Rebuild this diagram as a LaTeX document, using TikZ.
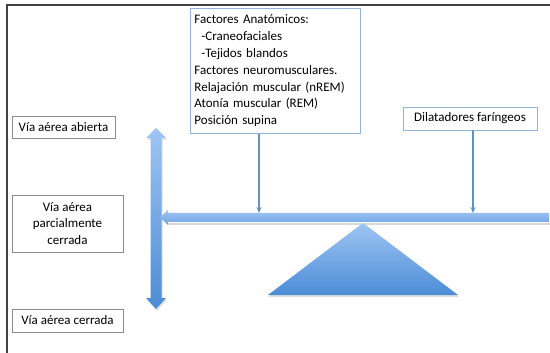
\documentclass[tikz,border=0pt]{standalone}
\usepackage{fontspec}
\setmainfont{Carlito}
\usetikzlibrary{arrows.meta,positioning,calc}
\definecolor{framegr}{RGB}{64,64,64}
\definecolor{boxgr}{RGB}{140,140,140}
\definecolor{boxbl}{RGB}{149,179,215}
\definecolor{arrbl}{RGB}{95,145,205}
\definecolor{lightbl}{RGB}{158,197,243}
\definecolor{darkbl}{RGB}{76,140,214}
\definecolor{beambl}{RGB}{120,170,232}

\begin{document}
\begin{tikzpicture}[x=1pt, y=-1pt, font=\fontsize{13}{16.8}\selectfont,
    levelbox/.style={draw=boxgr, line width=0.8pt, inner sep=2pt, align=center},
    factorbox/.style={draw=boxbl, line width=0.9pt, inner sep=4pt},
    force/.style={arrbl, line width=1.2pt, -{Stealth[length=6pt,width=5pt]}}]
    \useasboundingbox (0,0) rectangle (550,353);

    % Frame
    \draw[framegr, line width=1.5pt] (7,353) -- (7,5) -- (550,5);

    % Airway levels
    \node[levelbox, minimum width=103pt, minimum height=22pt] (abierta) at (63.5,127) {Vía aérea abierta};
    \node[levelbox, minimum width=111pt, minimum height=57pt] (parcial) at (67.5,223.5)
      {Vía aérea\\parcialmente\\cerrada};
    \node[levelbox, minimum width=111pt, minimum height=23pt] (cerrada) at (67.5,320.5) {Vía aérea cerrada};

    % Double arrow
    \fill[black!12] (157,130) -- (167,140) -- (162.5,140) -- (162.5,300) -- (167,300) -- (157,311)
      -- (147,300) -- (151.5,300) -- (151.5,140) -- (147,140) -- cycle;
    \shade[top color=lightbl, bottom color=darkbl]
      (156,128) -- (166,138) -- (161.5,138) -- (161.5,298) -- (166,298) -- (156,309)
      -- (146,298) -- (150.5,298) -- (150.5,138) -- (146,138) -- cycle;

    % Beam
    \fill[black!15] (168,223) rectangle (550,225);
    \shade[top color=lightbl, bottom color=beambl!80!darkbl]
      (160,217.5) -- (168,210) -- (168,213) -- (549,213) -- (549,222) -- (168,222)
      -- (168,225) -- cycle;
    \coordinate (beamL) at (259,213);
    \coordinate (beamR) at (473,213);

    % Fulcrum
    \fill[black!12] (363,225) -- (459,297) -- (268,297) -- cycle;
    \shade[top color=lightbl, bottom color=darkbl]
      (363,223) -- (458,295) -- (268,295) -- cycle;

    % Factors
    \node[factorbox, anchor=north west, text width=162pt, minimum height=125pt, align=left]
      (factores) at (190,8)
      {Factores Anatómicos:\\
       \hspace*{7pt}-Craneofaciales\\
       \hspace*{7pt}-Tejidos blandos\\
       Factores neuromusculares.\\
       Relajación muscular (nREM)\\
       Atonía muscular (REM)\\
       Posición supina};
    \node[factorbox, minimum width=134pt, minimum height=23pt] (dilat) at (470,118.5) {Dilatadores faríngeos};

    \draw[force] (factores.south -| beamL) -- (beamL);
    \draw[force] (dilat.south -| beamR) -- (beamR);
\end{tikzpicture}
\end{document}
